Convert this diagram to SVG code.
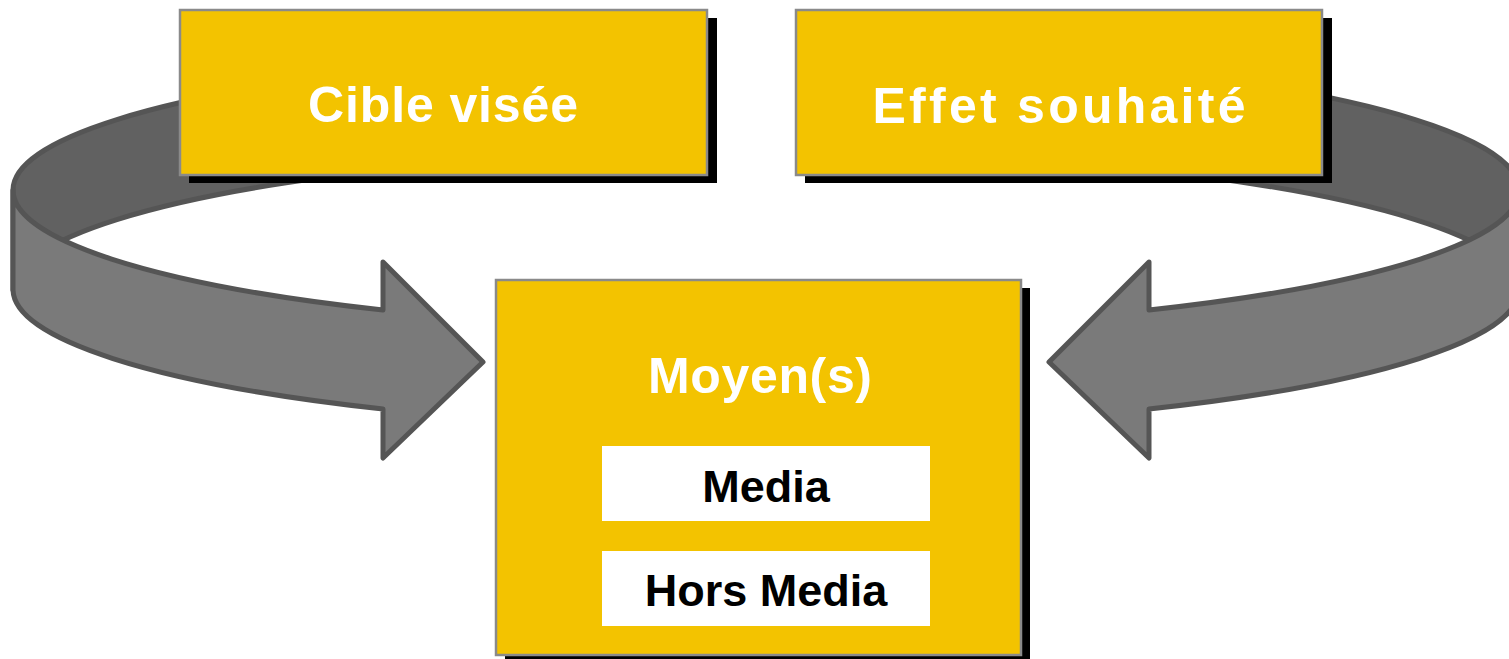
<svg xmlns="http://www.w3.org/2000/svg" width="1509" height="659" viewBox="0 0 1509 659">
<style>
.back{fill:#616161;stroke:#555555;stroke-width:5;stroke-linejoin:round}
.front{fill:#7a7a7a;stroke:#555555;stroke-width:5;stroke-linejoin:round}
.box{fill:#F3C300;stroke:#8a8a8a;stroke-width:2.5}
.shadow{fill:#000000}
.inner{fill:#ffffff}
.head{font-family:"Liberation Sans",Arial,sans-serif;font-weight:bold;font-size:50px;fill:#ffffff;text-anchor:middle}
.sub{font-family:"Liberation Sans",Arial,sans-serif;font-weight:bold;font-size:45px;fill:#000000;text-anchor:middle}
</style>
<g id="connectors">
  <g id="arrow-left">
    <path class="back" d="M13,190 A753,139 0 0 1 400,68.5 L400,168.5 A753,139 0 0 0 13,290 Z"/>
    <path class="front" d="M13,190 A753,139 0 0 0 383,310 L383,262 L483,362 L383,458 L383,409 A753,139 0 0 1 13,290 Z"/>
  </g>
  <g id="arrow-right" transform="translate(1532,0) scale(-1,1)">
    <path class="back" d="M13,190 A753,139 0 0 1 400,68.5 L400,168.5 A753,139 0 0 0 13,290 Z"/>
    <path class="front" d="M13,190 A753,139 0 0 0 383,310 L383,262 L483,362 L383,458 L383,409 A753,139 0 0 1 13,290 Z"/>
  </g>
</g>
<g id="cible">
  <rect class="shadow" x="189" y="18" width="528" height="165"/>
  <rect class="box" x="180" y="10" width="527" height="165"/>
  <text class="head" x="443" y="122" textLength="270" lengthAdjust="spacing">Cible visée</text>
</g>
<g id="effet">
  <rect class="shadow" x="805" y="18" width="527" height="165"/>
  <rect class="box" x="796" y="10" width="526" height="165"/>
  <text class="head" x="1059" y="123" textLength="373" lengthAdjust="spacing">Effet souhaité</text>
</g>
<g id="moyens">
  <rect class="shadow" x="505" y="288" width="525" height="375"/>
  <rect class="box" x="496" y="280" width="525" height="375"/>
  <text class="head" x="760" y="393" textLength="224" lengthAdjust="spacing">Moyen(s)</text>
  <g id="media">
    <rect class="inner" x="602" y="446" width="328" height="75"/>
    <text class="sub" x="766" y="502">Media</text>
  </g>
  <g id="hors-media">
    <rect class="inner" x="602" y="551" width="328" height="75"/>
    <text class="sub" x="766" y="606">Hors Media</text>
  </g>
</g>
</svg>
